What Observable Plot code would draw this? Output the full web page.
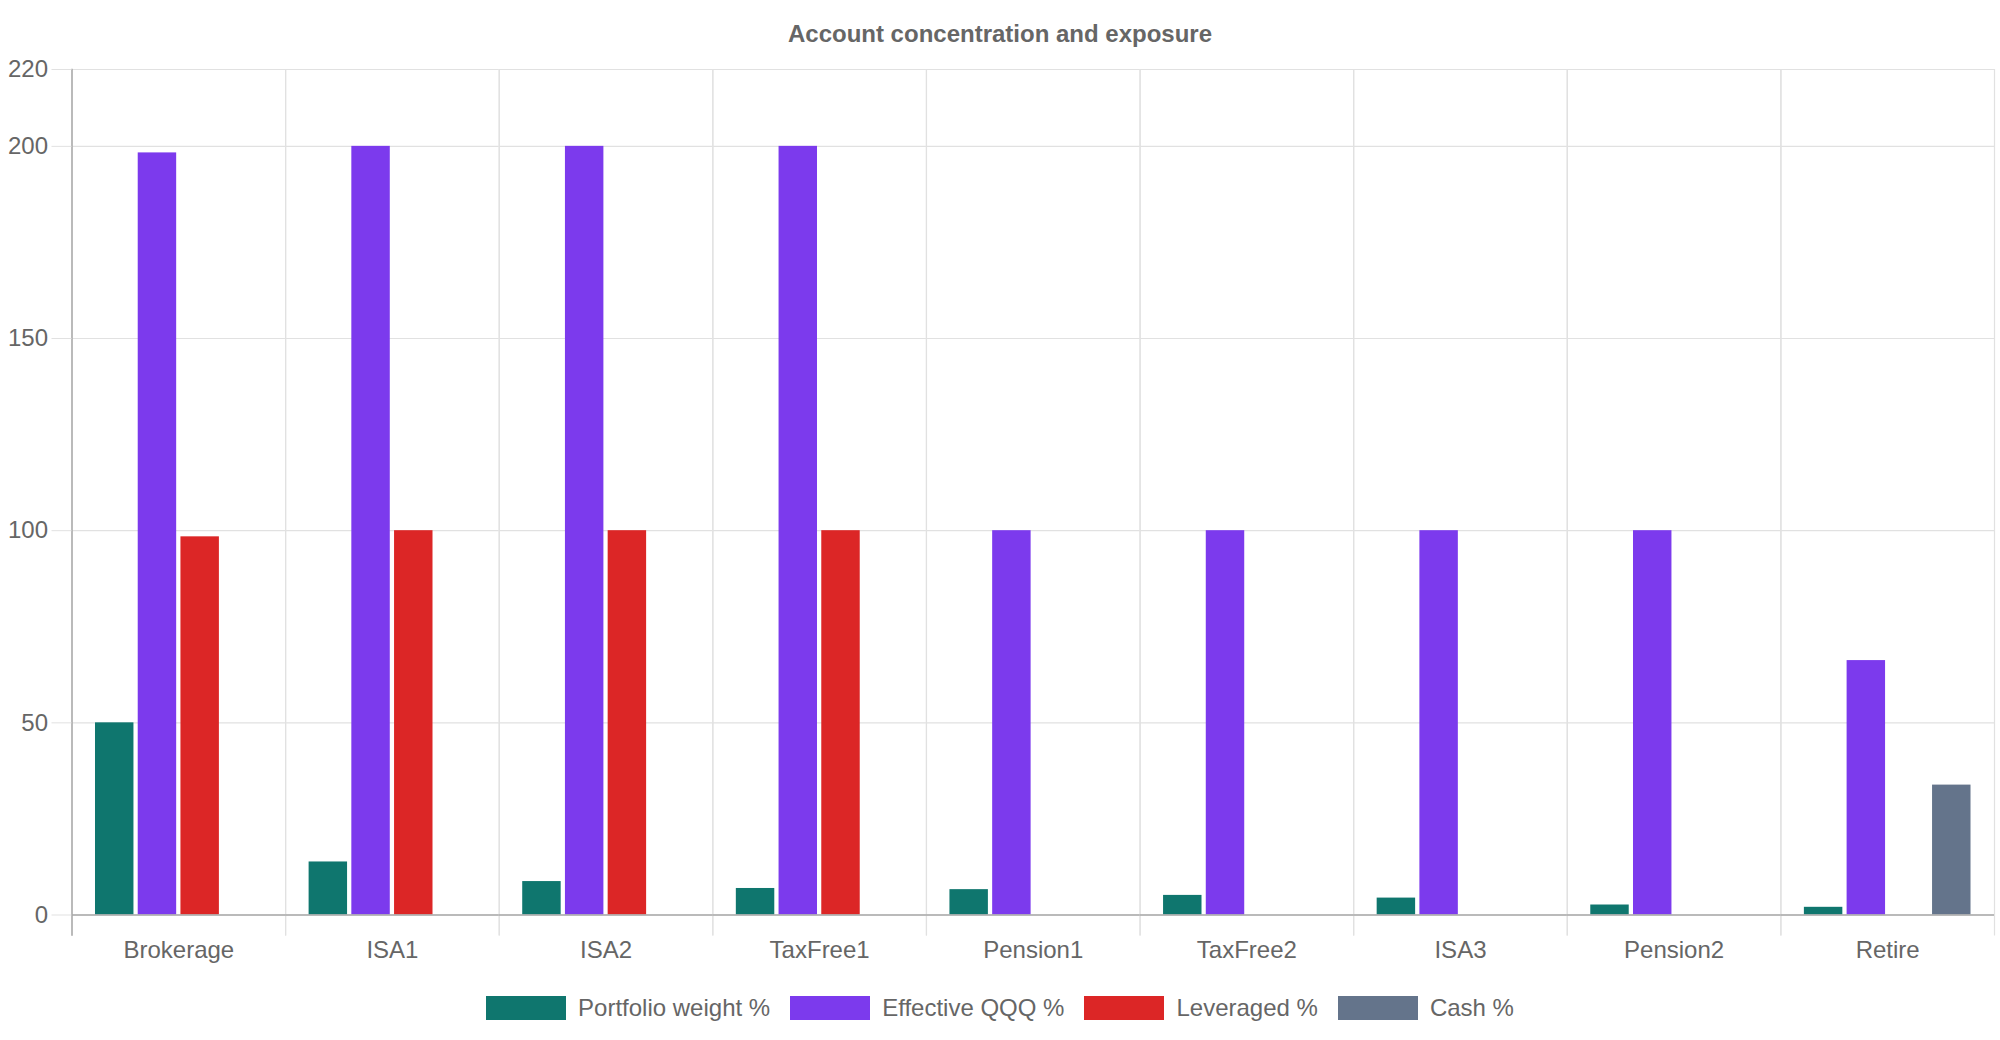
<!DOCTYPE html>
<html>
<head>
<meta charset="utf-8">
<script src="https://cdn.jsdelivr.net/npm/d3@7"></script>
<script src="https://cdn.jsdelivr.net/npm/@observablehq/plot@0.6"></script>
<style>
  html, body { margin: 0; padding: 0; background: #fff; }
  body { width: 2000px; height: 1040px; position: relative; overflow: hidden;
         font-family: "Liberation Sans", Arial, Helvetica, sans-serif; color: #666; }
  #title { position: absolute; top: 22px; left: 0; width: 2000px; text-align: center;
           font-size: 24px; line-height: 24px; font-weight: bold; color: #666; }
  #chart { position: absolute; top: 0; left: 0; }
  #legend { position: absolute; top: 996px; left: 0; width: 2000px; display: flex;
            justify-content: center; align-items: center; height: 24px; }
  .item { display: flex; align-items: center; margin: 0 10px; }
  .swatch { width: 80px; height: 24px; }
  .label { margin-left: 12px; font-size: 24px; line-height: 24px; color: #666; }
</style>
</head>
<body>
<div id="title">Account concentration and exposure</div>
<div id="chart"></div>
<div id="legend"></div>
<script>
const accounts = ["Brokerage", "ISA1", "ISA2", "TaxFree1", "Pension1", "TaxFree2", "ISA3", "Pension2", "Retire"];
const seriesNames = ["Portfolio weight %", "Effective QQQ %", "Leveraged %", "Cash %"];
const portfolioWeight = [50, 13.8, 8.7, 6.9, 6.6, 5.1, 4.4, 2.6, 2.0];
const effectiveQQQ = [198.3, 200, 200, 200, 100, 100, 100, 100, 66.2];
const leveraged = [98.4, 100, 100, 100, 0, 0, 0, 0, 0];
const cash = [0, 0, 0, 0, 0, 0, 0, 0, 33.8];
const seriesColors = ["#0f766e", "#7c3aed", "#dc2626", "#64748b"];
const yTicks = [0, 50, 100, 150, 200, 220];

const seriesValues = [portfolioWeight, effectiveQQQ, leveraged, cash];
const rows = [];
accounts.forEach((a, i) => {
  seriesNames.forEach((s, j) => rows.push({account: a, series: s, value: seriesValues[j][i]}));
});

const grid = "#e1e1e1";
const axisColor = "#a8a8a8";

const chart = Plot.plot({
  width: 2000,
  height: 975,
  marginTop: 69,
  marginBottom: 60.5,
  marginLeft: 71.5,
  marginRight: 6,
  style: {fontFamily: "Liberation Sans, Arial, Helvetica, sans-serif", fontSize: "24px", color: "#666", background: "transparent"},
  fx: {domain: accounts, paddingInner: 0, paddingOuter: 0, round: false, label: null},
  x: {domain: seriesNames, paddingInner: 0.1, paddingOuter: 0.55, round: false, axis: null},
  y: {domain: [0, 220], axis: null},
  color: {domain: seriesNames, range: seriesColors},
  marks: [
    Plot.gridY(yTicks, {stroke: grid, strokeOpacity: 1, strokeWidth: 1.2}),
    Plot.frame({anchor: "left", stroke: grid, strokeOpacity: 1, strokeWidth: 1.2, insetBottom: -20}),
    Plot.frame({anchor: "right", stroke: grid, strokeOpacity: 1, strokeWidth: 1.2, insetBottom: -20}),
    Plot.barY(rows, {fx: "account", x: "series", y: "value", fill: "series"}),
    Plot.ruleY([0], {stroke: axisColor, strokeWidth: 1.5}),
    Plot.frame({anchor: "left", facet: "super", stroke: axisColor, strokeWidth: 1.5, insetBottom: -20}),
    Plot.axisY(yTicks, {tickSize: 20, tickPadding: 4, stroke: grid, strokeOpacity: 1, fill: "#666", fontSize: 24, label: null}),
    Plot.axisFx({anchor: "bottom", tickSize: 0, tickPadding: 26, fill: "#666", fontSize: 24, label: null})
  ]
});
document.getElementById("chart").appendChild(chart);

const legend = document.getElementById("legend");
seriesNames.forEach((s, i) => {
  const item = document.createElement("div");
  item.className = "item";
  const sw = document.createElement("div");
  sw.className = "swatch";
  sw.style.background = seriesColors[i];
  const lb = document.createElement("span");
  lb.className = "label";
  lb.textContent = s;
  item.appendChild(sw);
  item.appendChild(lb);
  legend.appendChild(item);
});
</script>
</body>
</html>
